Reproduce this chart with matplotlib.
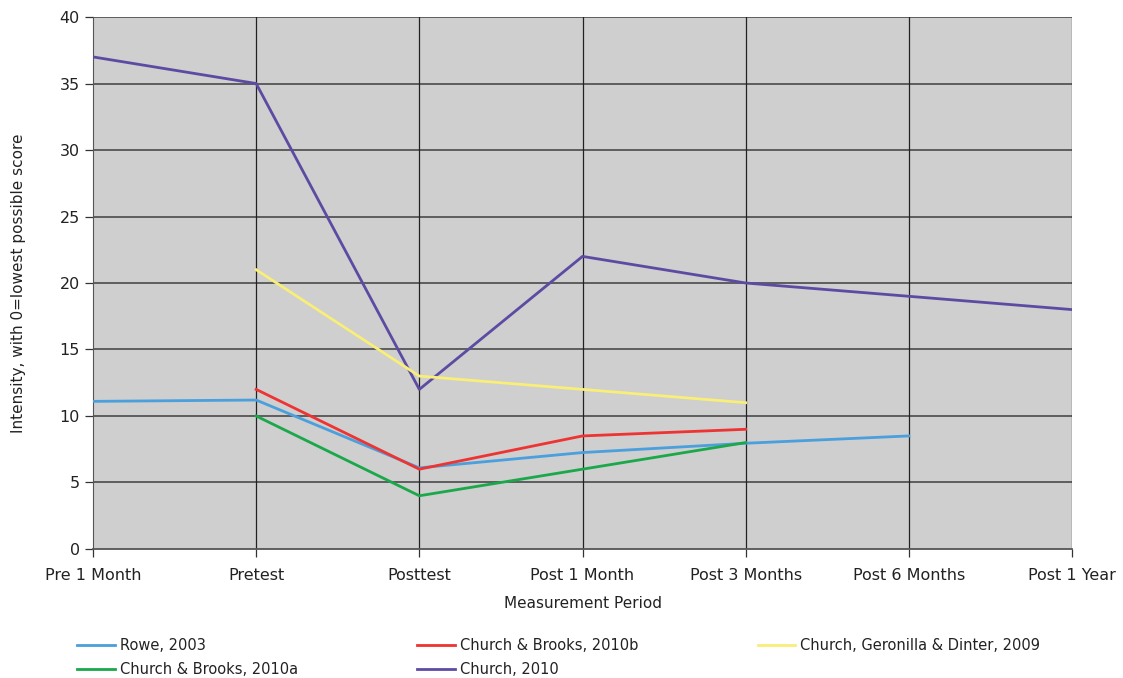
import matplotlib.pyplot as plt
import numpy as np

periods = ['Pre 1 Month', 'Pretest', 'Posttest', 'Post 1 Month',
           'Post 3 Months', 'Post 6 Months', 'Post 1 Year']

nan = np.nan
rowe_2003 = [11.1, 11.2, 6.1, 7.25, 7.95, 8.5, nan]
church_brooks_2010b = [nan, 12, 6, 8.5, 9, nan, nan]
church_geronilla_2009 = [nan, 21, 13, 12, 11, nan, nan]
church_brooks_2010a = [nan, 10, 4, 6, 8, nan, nan]
church_2010 = [37, 35, 12, 22, 20, 19, 18]

series = [
    ('Rowe, 2003', rowe_2003, '#4a9fdc'),
    ('Church & Brooks, 2010a', church_brooks_2010a, '#1aa84a'),
    ('Church & Brooks, 2010b', church_brooks_2010b, '#ee3333'),
    ('Church, 2010', church_2010, '#5d4ba3'),
    ('Church, Geronilla & Dinter, 2009', church_geronilla_2009, '#f8ee78'),
]

plt.rcParams['font.family'] = 'DejaVu Sans'
fig = plt.figure(figsize=(11.23, 6.78), dpi=100)
ax = fig.add_axes([0.0828, 0.1903, 0.8718, 0.7846])
ax.set_facecolor('#cecfce')

x = np.arange(len(periods))
for label, vals, col in series:
    ax.plot(x, vals, color=col, lw=2.0, label=label, zorder=3)

ax.set_xlim(0, len(periods) - 1)
ax.set_ylim(0, 40)
ax.set_yticks(range(0, 41, 5))
ax.set_xticks(x)
ax.set_xticklabels(periods)

for yv in range(5, 41, 5):
    ax.axhline(yv, color='#555555', lw=1.3, zorder=1)
for xv in x[1:]:
    ax.axvline(xv, color='#222222', lw=0.9, zorder=1)

for s in ['top', 'right']:
    ax.spines[s].set_visible(False)
ax.spines['left'].set_color('#555555')
ax.spines['bottom'].set_color('#555555')
ax.spines['bottom'].set_linewidth(1.3)
ax.tick_params(axis='both', length=6, width=0.9, color='#333333',
               labelsize=11.5, labelcolor='#222222')
ax.tick_params(axis='x', pad=8)

ax.set_xlabel('Measurement Period', fontsize=11, color='#222222', labelpad=9)
ax.set_ylabel('Intensity, with 0=lowest possible score', fontsize=11,
              color='#222222', labelpad=24)

fig.legend(loc='upper left', bbox_to_anchor=(0.0636, 0.068), ncol=3,
           frameon=False, fontsize=10.5, handlelength=2.6, handletextpad=0.3,
           columnspacing=8.2, labelspacing=0.65, borderaxespad=0,
           labelcolor='#222222')

plt.savefig('out.png')
